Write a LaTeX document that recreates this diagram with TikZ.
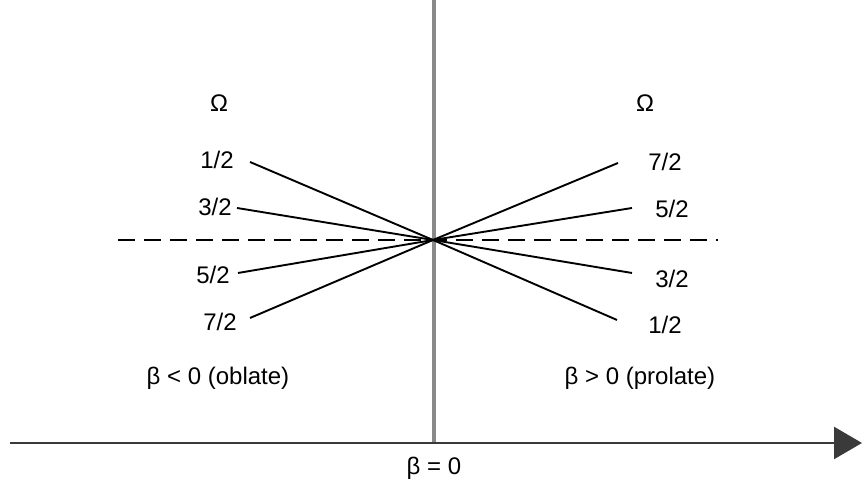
\documentclass[tikz,border=0pt]{standalone}
\usepackage{fontspec}
\setmainfont{Liberation Sans}
\usepackage{xcolor}
\definecolor{cAxis}{HTML}{3A3A3A}
\definecolor{cGray}{HTML}{8A8A8A}
\usetikzlibrary{arrows.meta}
\tikzset{
  lbl/.style={inner sep=1pt,font=\fontsize{12}{14}\selectfont},
  fan-line/.style={draw=black,line width=0.95pt},
  level-line/.style={draw=black,line width=1.4pt,dash pattern=on 8.5pt off 4.5pt},
  axis-v/.style={draw=cGray,line width=1.6pt},
  axis-h/.style={draw=cAxis,line width=1.2pt,-{Triangle[length=14pt,width=16pt]}},
}
\begin{document}
\begin{tikzpicture}[x=0.5pt,y=0.5pt]
  \useasboundingbox (0,0) rectangle (864,490);
  % axes
  \coordinate (top)  at (434,490);
  \coordinate (foot) at (434,47);
  \coordinate (ax0)  at (10,47);
  \coordinate (ax1)  at (862,47);
  \coordinate (c)    at (433,250);
  \coordinate (dl)   at (118,250);
  \coordinate (dr)   at (718,250);
  \draw[axis-v] (top) -- (foot);
  \draw[axis-h] (ax0) -- (ax1);
  \draw[level-line] (dl) -- (dr);
  % line ends
  \coordinate (l1) at (250,328);
  \coordinate (l3) at (237,282);
  \coordinate (l5) at (238,217);
  \coordinate (l7) at (250,172);
  \coordinate (r7) at (618,327);
  \coordinate (r5) at (632,282);
  \coordinate (r3) at (632,217);
  \coordinate (r1) at (617,170);
  \foreach \p in {l1,l3,l5,l7,r7,r5,r3,r1}
    \draw[fan-line] (c) -- (\p);
  % labels
  \node[lbl] (om-l)  at (219,387) {Ω};
  \node[lbl] (om-r)  at (645,387) {Ω};
  \node[lbl] (tl1)   at (217,330) {1/2};
  \node[lbl] (tl3)   at (215,283) {3/2};
  \node[lbl] (tl5)   at (213,215) {5/2};
  \node[lbl] (tl7)   at (220,168) {7/2};
  \node[lbl] (tr7)   at (665,328) {7/2};
  \node[lbl] (tr5)   at (672,281) {5/2};
  \node[lbl] (tr3)   at (672,211) {3/2};
  \node[lbl] (tr1)   at (665,165) {1/2};
  \node[lbl] (obl)   at (218,112) {β < 0 (oblate)};
  \node[lbl] (pro)   at (640,112) {β > 0 (prolate)};
  \node[lbl] (zero)  at (434,22)  {β = 0};
\end{tikzpicture}
\end{document}
